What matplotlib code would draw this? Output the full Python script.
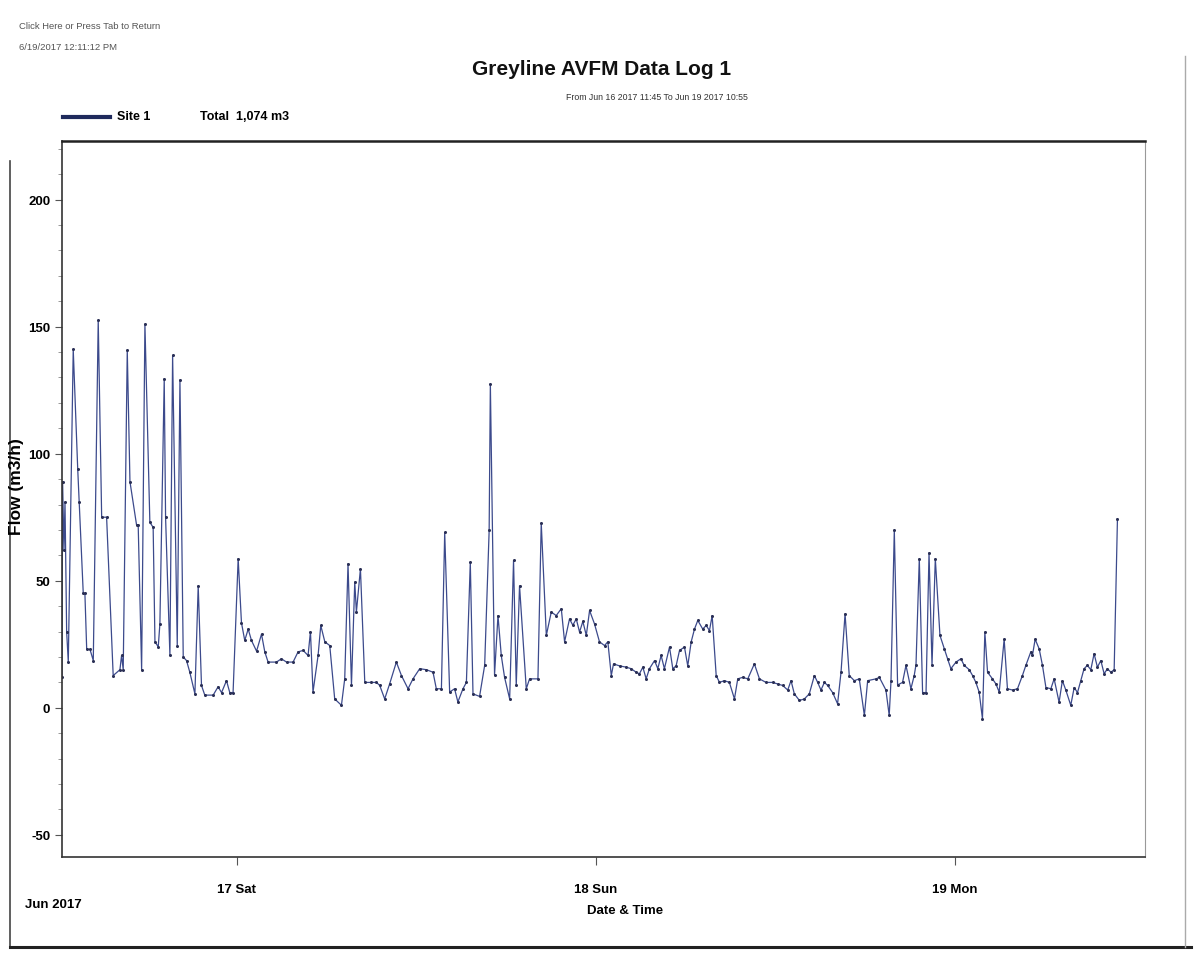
import matplotlib.pyplot as plt
import matplotlib.dates as mdates
from matplotlib.lines import Line2D
import pandas as pd

# hours since Jun 16 2017 00:00
hours = [12.32, 12.36, 12.45, 12.52, 12.63, 12.74, 13.07, 13.37, 13.47, 13.74,
         13.85, 13.97, 14.19, 14.41, 14.74, 14.97, 15.30, 15.74, 16.19, 16.30,
         16.41, 16.68, 16.86, 17.30, 17.41, 17.64, 17.86, 18.19, 18.41, 18.53,
         18.75, 18.86, 19.15, 19.24, 19.53, 19.71, 20.02, 20.20, 20.42, 20.64,
         20.86, 21.20, 21.42, 21.64, 21.86, 22.42, 22.75, 22.98, 23.31, 23.53,
         23.75, 24.09, 24.31, 24.53, 24.76, 24.98, 25.32, 25.65, 25.87, 26.09,
         26.65, 26.98, 27.32, 27.76, 28.09, 28.43, 28.76, 28.92, 29.09, 29.43,
         29.61, 29.88, 30.21, 30.54, 30.99, 31.21, 31.43, 31.66, 31.88, 31.99,
         32.26, 32.55, 32.99, 33.33, 33.55, 33.88, 34.21, 34.66, 35.00, 35.44,
         35.77, 36.22, 36.67, 37.11, 37.33, 37.67, 37.89, 38.22, 38.55, 38.77,
         39.11, 39.34, 39.60, 39.78, 40.22, 40.56, 40.86, 40.94, 41.22, 41.45,
         41.67, 41.89, 42.23, 42.49, 42.67, 42.89, 43.34, 43.56, 44.12, 44.34,
         44.68, 45.01, 45.34, 45.68, 45.90, 46.23, 46.45, 46.68, 46.90, 47.12,
         47.35, 47.57, 47.90, 48.23, 48.57, 48.79, 49.02, 49.17, 49.57, 50.02,
         50.35, 50.68, 50.90, 51.13, 51.35, 51.57, 51.91, 52.13, 52.35, 52.57,
         52.91, 53.13, 53.35, 53.58, 53.91, 54.13, 54.36, 54.58, 54.80, 55.13,
         55.36, 55.58, 55.76, 56.03, 56.25, 56.58, 56.91, 57.25, 57.47, 57.80,
         58.14, 58.58, 58.92, 59.36, 59.80, 60.14, 60.47, 60.81, 61.03, 61.25,
         61.59, 61.92, 62.25, 62.59, 62.81, 63.03, 63.26, 63.48, 63.81, 64.14,
         64.37, 64.64, 64.92, 65.26, 65.59, 65.93, 66.15, 66.71, 66.93, 67.37,
         67.59, 67.71, 67.93, 68.15, 68.48, 68.71, 69.04, 69.26, 69.38, 69.60,
         69.82, 70.05, 70.25, 70.45, 70.67, 70.98, 71.27, 71.49, 71.71, 72.05,
         72.38, 72.60, 72.94, 73.16, 73.38, 73.60, 73.82, 73.98, 74.16, 74.49,
         74.72, 74.94, 75.27, 75.49, 75.83, 76.16, 76.49, 76.72, 77.05, 77.16,
         77.34, 77.61, 77.83, 78.06, 78.39, 78.61, 78.94, 79.16, 79.39, 79.72,
         79.95, 80.17, 80.39, 80.61, 80.83, 81.06, 81.28, 81.50, 81.73, 81.95,
         82.17, 82.40, 82.62, 82.84]

# flow in m3/h
flow = [12, 89, 62, 81, 30, 18, 141, 94, 81, 45,
        45, 23, 23, 18.6, 152.5, 75, 75, 12.7, 15, 20.6,
        15, 140.7, 89, 72, 72, 15, 151, 73, 71, 26,
        24, 33, 129.5, 75, 20.6, 138.7, 24.5, 129, 20, 18.6,
        14, 5.5, 48, 8.8, 5, 5, 8.3, 6, 10.7, 6,
        6, 58.7, 33.5, 26.5, 31, 26.5, 22.3, 29, 22, 18,
        18, 19.3, 18, 18, 22, 22.6, 20.6, 30, 6.2, 20.6,
        32.4, 26, 24.5, 3.5, 1, 11.4, 56.7, 8.8, 49.5, 37.7,
        54.7, 10, 10, 10, 8.8, 3.5, 9.4, 18, 12.7, 7.5,
        11.4, 15.4, 15, 14, 7.5, 7.5, 69, 6.2, 7.5, 2.3,
        7.5, 10, 57.3, 5.5, 4.5, 16.7, 69.8, 127.6, 13, 36.3,
        20.6, 12, 3.5, 58, 8.8, 48, 7.5, 11.4, 11.4, 72.7,
        28.5, 37.7, 36.3, 39, 26, 35, 32.5, 35, 29.8, 34,
        28.5, 38.3, 33, 26, 24.5, 26, 12.7, 17.3, 16.5, 16,
        15.4, 14, 13.4, 16, 11.4, 15.4, 18.6, 15.4, 20.6, 15.4,
        23.9, 15.4, 16.5, 22.6, 23.9, 16.5, 26, 31, 34.4, 31,
        32.4, 30.4, 36.3, 12.7, 10, 10.7, 10, 3.5, 11.4, 12,
        11.4, 17.3, 11.4, 10, 10, 9.4, 8.8, 7, 10.7, 5.5,
        2.9, 3.5, 5.5, 12.7, 10, 7, 10, 8.8, 6, 1.6,
        14, 37, 12.7, 10.7, 11.4, -3, 10.7, 11.4, 12, 7,
        -3, 10.7, 70, 9, 10, 16.7, 7.5, 12.7, 17, 58.7,
        6, 6, 61, 16.7, 58.7, 28.5, 23.2, 19.3, 15.4, 18,
        19.3, 16.7, 15, 12.7, 10, 6.2, -4.3, 29.8, 14, 11.4,
        9.4, 6.2, 27, 7.5, 7, 7.5, 12.7, 16.7, 22, 20.6,
        27, 23.2, 16.7, 8, 7.5, 11.4, 2.2, 10.7, 7, 1,
        8, 6, 10.7, 15.4, 16.7, 15, 21.3, 16, 18.6, 13.4,
        15.4, 14, 15, 74.4]

start = pd.Timestamp("2017-06-16")
times = start + pd.to_timedelta(hours, unit="h")

plt.rcParams['font.family'] = ['Liberation Sans', 'DejaVu Sans']
plt.rcParams['axes.unicode_minus'] = False

fig = plt.figure(figsize=(11.97, 9.54), dpi=100)
ax = fig.add_axes([0.0518, 0.1006, 0.905, 0.7505])

ax.plot(times, flow, color='#3c4a8c', linewidth=0.9, marker='o', markersize=2.2,
        markerfacecolor='#2a2f55', markeredgewidth=0)

ax.set_xlim(start + pd.Timedelta(hours=12.32), start + pd.Timedelta(hours=84.7))
ax.set_ylim(-58.7, 223)

ax.set_yticks([-50, 0, 50, 100, 150, 200])
ax.set_yticks(range(-50, 221, 10), minor=True)
ax.xaxis.set_major_locator(mdates.DayLocator())
ax.xaxis.set_major_formatter(mdates.DateFormatter('%d %a'))

ax.tick_params(axis='y', which='major', length=5, width=0.8, labelsize=9.5,
               color='#555555')
ax.tick_params(axis='y', which='minor', length=3, width=0.6, color='#888888')
ax.tick_params(axis='x', which='major', length=6, width=0.8, labelsize=9.5,
               pad=13, color='#555555')
for lab in ax.get_xticklabels() + ax.get_yticklabels():
    lab.set_fontweight('bold')

for side in ['left', 'bottom']:
    ax.spines[side].set_color('#333333')
    ax.spines[side].set_linewidth(1.2)
ax.spines['top'].set_color('#222222')
ax.spines['top'].set_linewidth(1.8)
ax.spines['right'].set_color('#999999')
ax.spines['right'].set_linewidth(0.8)

# titles and header text
fig.text(0.5025, 0.927, "Greyline AVFM Data Log 1", ha='center', va='center',
         fontsize=15, fontweight='bold', color='#111111')
fig.text(0.5485, 0.898, "From Jun 16 2017 11:45 To Jun 19 2017 10:55",
         ha='center', va='center', fontsize=6.3, color='#333333')
fig.text(0.016, 0.972, "Click Here or Press Tab to Return", ha='left',
         va='center', fontsize=6.8, color='#555555')
fig.text(0.016, 0.950, "6/19/2017 12:11:12 PM", ha='left', va='center',
         fontsize=6.8, color='#555555')

# legend row
fig.add_artist(Line2D([0.053, 0.092], [0.876, 0.876], color='#1f2a5c',
                      linewidth=3))
fig.text(0.098, 0.877, "Site 1", ha='left', va='center', fontsize=9,
         fontweight='bold')
fig.text(0.167, 0.877, "Total  1,074 m3", ha='left', va='center',
         fontsize=9, fontweight='bold')

# axis labels
fig.text(0.014, 0.49, "Flow (m3/h)", rotation=90, ha='center', va='center',
         fontsize=12.5, fontweight='bold')
fig.text(0.522, 0.045, "Date & Time", ha='center', va='center', fontsize=9.5,
         fontweight='bold')
fig.text(0.045, 0.051, "Jun 2017", ha='center', va='center', fontsize=9.5,
         fontweight='bold')

# printed page frame
fig.add_artist(Line2D([0.008, 0.008], [0.006, 0.83], color='#444444', linewidth=1.2))
fig.add_artist(Line2D([0.008, 0.995], [0.006, 0.006], color='#222222', linewidth=2.2))
fig.add_artist(Line2D([0.99, 0.99], [0.006, 0.94], color='#aaaaaa', linewidth=1))

fig.savefig("out.png", dpi=100)
